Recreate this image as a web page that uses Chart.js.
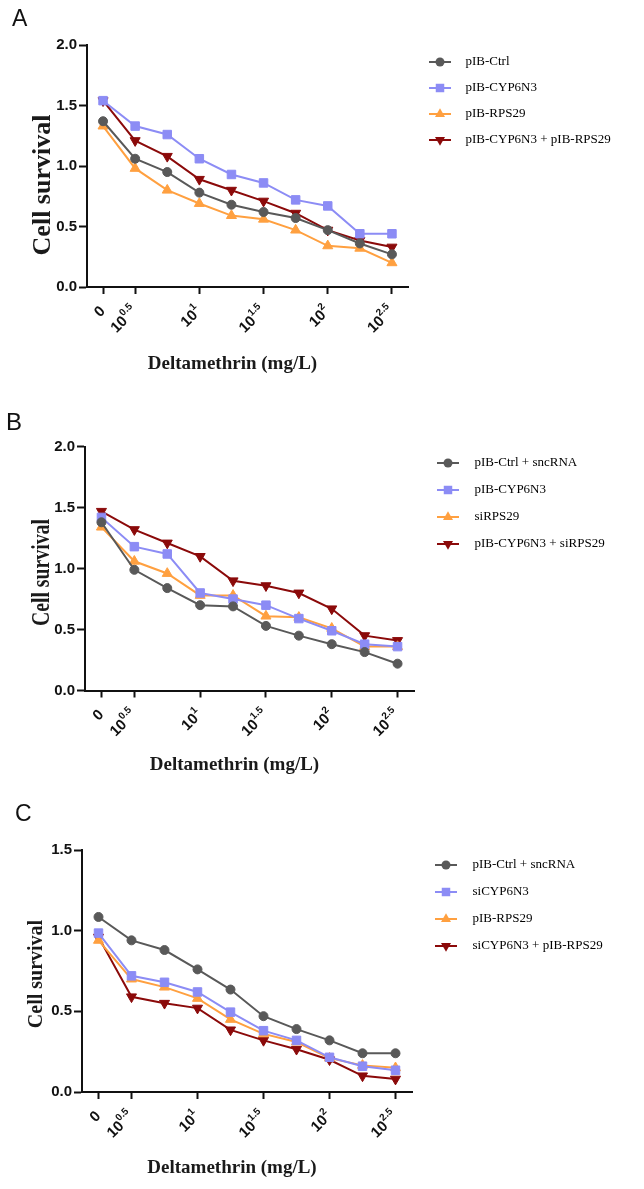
<!DOCTYPE html>
<html>
<head>
<meta charset="utf-8">
<script src="https://cdn.jsdelivr.net/npm/chart.js@4/dist/chart.umd.min.js"></script>
<style>
  html, body { margin: 0; padding: 0; background: #fff; }
  body { position: relative; width: 644px; height: 1189px; overflow: hidden; }
  canvas { position: absolute; left: 0; }
  .tag { position: absolute; font-family: "Liberation Sans", Arial, sans-serif; color: #111; line-height: 1; }
</style>
</head>
<body>
<canvas id="chartA" width="644" height="385" style="top:0px"></canvas>
<canvas id="chartB" width="644" height="390" style="top:385px"></canvas>
<canvas id="chartC" width="644" height="414" style="top:775px"></canvas>
<div class="tag" style="left:12px;top:7px;font-size:23px">A</div>
<div class="tag" style="left:6px;top:410px;font-size:24px">B</div>
<div class="tag" style="left:15px;top:802px;font-size:23px">C</div>
<script>
// x categories (dose, log scale) and the ones that get a tick + label
const doses = ['0', '10^0.5', '10^0.75', '10^1', '10^1.25', '10^1.5', '10^1.75', '10^2', '10^2.25', '10^2.5'];
const labelledDoses = ['0', '10^0.5', '10^1', '10^1.5', '10^2', '10^2.5'];

const xTitle = 'Deltamethrin (mg/L)';
const yTitle = 'Cell survival';

// panel A
const namesA = ['pIB-Ctrl', 'pIB-CYP6N3', 'pIB-RPS29', 'pIB-CYP6N3 + pIB-RPS29'];
const ctrlA  = [1.37, 1.06, 0.95, 0.78, 0.68, 0.62, 0.57, 0.47, 0.36, 0.27];
const cypA   = [1.54, 1.33, 1.26, 1.06, 0.93, 0.86, 0.72, 0.67, 0.44, 0.44];
const rpsA   = [1.33, 0.98, 0.80, 0.69, 0.59, 0.56, 0.47, 0.34, 0.32, 0.20];
const comboA = [1.54, 1.21, 1.08, 0.89, 0.80, 0.71, 0.61, 0.47, 0.385, 0.33];

// panel B
const namesB = ['pIB-Ctrl + sncRNA', 'pIB-CYP6N3', 'siRPS29', 'pIB-CYP6N3 + siRPS29'];
const ctrlB  = [1.38, 0.99, 0.84, 0.70, 0.69, 0.53, 0.45, 0.38, 0.315, 0.22];
const cypB   = [1.42, 1.18, 1.12, 0.80, 0.75, 0.70, 0.59, 0.49, 0.38, 0.36];
const rpsB   = [1.34, 1.06, 0.96, 0.78, 0.78, 0.61, 0.60, 0.51, 0.36, 0.36];
const comboB = [1.47, 1.32, 1.21, 1.10, 0.90, 0.86, 0.80, 0.67, 0.45, 0.41];

// panel C
const namesC = ['pIB-Ctrl + sncRNA', 'siCYP6N3', 'pIB-RPS29', 'siCYP6N3 + pIB-RPS29'];
const ctrlC  = [1.085, 0.94, 0.88, 0.76, 0.635, 0.47, 0.39, 0.32, 0.24, 0.24];
const cypC   = [0.985, 0.72, 0.68, 0.62, 0.495, 0.38, 0.32, 0.215, 0.16, 0.135];
const rpsC   = [0.94, 0.70, 0.65, 0.58, 0.45, 0.36, 0.31, 0.21, 0.165, 0.15];
const comboC = [0.96, 0.59, 0.55, 0.52, 0.385, 0.32, 0.265, 0.20, 0.10, 0.08];

const yTicksAB = [0, 0.5, 1.0, 1.5, 2.0];
const yTicksC  = [0, 0.5, 1.0, 1.5];

const colors  = ['#595959', '#8c8cf5', '#ffa040', '#8b0a0a'];
const markers = ['circle', 'rect', 'triangle', 'triangle'];
const turns   = [0, 0, 0, 180];
const radii   = [4.5, 6, 5.8, 5.8];

const SANS = '"Liberation Sans", Arial, sans-serif';
const SERIF = '"Liberation Serif", "Times New Roman", serif';
const LEGEND_FONT = 13;

// small line+marker picture for the legend
function legendIcon(i) {
  const c = document.createElement('canvas');
  c.width = 24; c.height = 14;
  const g = c.getContext('2d');
  g.strokeStyle = colors[i];
  g.fillStyle = colors[i];
  g.lineWidth = 2;
  g.beginPath(); g.moveTo(1, 7); g.lineTo(23, 7); g.stroke();
  const x = 12, y = 7, r = radii[i];
  g.beginPath();
  if (markers[i] === 'circle') {
    g.arc(x, y, r, 0, Math.PI * 2);
  } else if (markers[i] === 'rect') {
    const s = r * Math.SQRT1_2;
    g.rect(x - s, y - s, 2 * s, 2 * s);
  } else {
    const d = turns[i] ? -1 : 1;
    const h = r * 0.5;
    g.moveTo(x, y - d * r);
    g.lineTo(x + r * 0.866, y + d * h);
    g.lineTo(x - r * 0.866, y + d * h);
    g.closePath();
  }
  g.fill();
  return c;
}

function textWidth(str, font) {
  const g = document.createElement('canvas').getContext('2d');
  g.font = font;
  return g.measureText(str).width;
}

// axis titles and superscript dose labels
const axisText = {
  id: 'axisText',
  afterDraw(chart, args, o) {
    const {ctx, chartArea} = chart;
    const x = chart.scales.x;
    ctx.save();
    ctx.fillStyle = '#111';
    x.ticks.forEach((t, i) => {
      const px = x.getPixelForTick(i);
      const parts = doses[t.value].split('^');
      ctx.save();
      ctx.translate(px, chartArea.bottom + 22);
      ctx.rotate(-Math.PI / 4);
      ctx.textAlign = 'left';
      ctx.textBaseline = 'middle';
      ctx.font = 'bold 15px ' + SANS;
      const wb = ctx.measureText(parts[0]).width;
      let we = 0;
      if (parts[1]) {
        ctx.font = 'bold 10px ' + SANS;
        we = ctx.measureText(parts[1]).width;
        ctx.fillText(parts[1], -we, -6);
      }
      ctx.font = 'bold 15px ' + SANS;
      ctx.fillText(parts[0], -wb - we, 0);
      ctx.restore();
    });

    ctx.font = 'bold 19px ' + SERIF;
    ctx.textAlign = 'center';
    ctx.textBaseline = 'middle';
    ctx.fillStyle = '#1a1a1a';
    ctx.fillText(xTitle, (chartArea.left + chartArea.right) / 2 - 15, chartArea.bottom + o.xTitleGap);

    ctx.translate(o.yTitleX, (chartArea.top + chartArea.bottom) / 2 + o.yTitleShift);
    ctx.rotate(-Math.PI / 2);
    ctx.scale(o.yTitleStretch, 1);
    ctx.font = 'bold ' + o.yTitleSize + 'px ' + SERIF;
    ctx.fillText(yTitle, 0, 0);
    ctx.restore();
  }
};

function buildChart(id, names, series, yTicks, lay) {
  const canvas = document.getElementById(id);
  const legendFont = LEGEND_FONT + 'px ' + SERIF;
  const longest = Math.max(...names.map(n => textWidth(n, legendFont)));
  const legendWidth = lay.legendPad + lay.boxW + LEGEND_FONT / 2 + longest + 10;
  const padRight = canvas.width - lay.right - legendWidth;

  return new Chart(canvas, {
    type: 'line',
    data: {
      labels: doses,
      datasets: series.map((vals, i) => ({
        label: names[i],
        data: vals,
        borderColor: colors[i],
        backgroundColor: colors[i],
        borderWidth: 2,
        pointStyle: markers[i],
        rotation: turns[i],
        pointRadius: radii[i],
        pointHoverRadius: radii[i],
        pointBackgroundColor: colors[i],
        pointBorderColor: colors[i],
        pointBorderWidth: 1,
        tension: 0,
        fill: false
      }))
    },
    options: {
      responsive: false,
      animation: false,
      devicePixelRatio: 1,
      layout: { padding: { top: lay.legendTop, left: 0, right: padRight, bottom: 0 } },
      plugins: {
        // empty title only used as a spacer between legend top and plot top
        title: {
          display: true,
          text: '',
          font: { size: 1, lineHeight: 1 },
          padding: { top: 0, bottom: lay.top - lay.legendTop - 1 }
        },
        legend: {
          position: 'right',
          align: 'start',
          maxWidth: 320,
          labels: {
            usePointStyle: true,
            pointStyleWidth: lay.boxW,
            padding: lay.legendPad,
            color: '#1a1a1a',
            font: { family: SERIF, size: LEGEND_FONT },
            generateLabels: chart => chart.data.datasets.map((ds, i) => ({
              text: ds.label,
              pointStyle: legendIcon(i),
              datasetIndex: i,
              hidden: false,
              fillStyle: colors[i],
              strokeStyle: colors[i],
              lineWidth: 0
            }))
          }
        },
        tooltip: { enabled: false },
        axisText: {
          xTitleGap: lay.xTitleGap,
          yTitleX: lay.yTitleX,
          yTitleShift: lay.yTitleShift,
          yTitleSize: lay.yTitleSize,
          yTitleStretch: lay.yTitleStretch
        }
      },
      scales: {
        x: {
          type: 'category',
          offset: true,
          afterBuildTicks: scale => {
            scale.ticks = scale.ticks.filter(t => labelledDoses.includes(doses[t.value]));
          },
          afterFit: scale => { scale.height = canvas.height - lay.bottom; },
          ticks: { display: false },
          grid: { drawOnChartArea: false, drawTicks: true, tickLength: 7, tickWidth: 2, tickColor: '#111' },
          border: { color: '#111', width: 2 }
        },
        y: {
          min: yTicks[0],
          max: yTicks[yTicks.length - 1],
          afterBuildTicks: scale => { scale.ticks = yTicks.map(v => ({ value: v })); },
          afterFit: scale => { scale.width = lay.left; },
          ticks: {
            padding: 2,
            color: '#111',
            font: { family: SANS, size: 15, weight: 'bold' },
            callback: v => v.toFixed(1)
          },
          grid: { drawOnChartArea: false, drawTicks: true, tickLength: 8, tickWidth: 2, tickColor: '#111' },
          border: { color: '#111', width: 2 }
        }
      }
    },
    plugins: [axisText]
  });
}

buildChart('chartA', namesA, [ctrlA, cypA, rpsA, comboA], yTicksAB, {
  left: 87, right: 408, top: 45, bottom: 287, legendTop: 42.5, legendPad: 13, boxW: 38,
  xTitleGap: 77, yTitleX: 43, yTitleShift: 19, yTitleSize: 26, yTitleStretch: 1
});
buildChart('chartB', namesB, [ctrlB, cypB, rpsB, comboB], yTicksAB, {
  left: 85, right: 414, top: 61.7, bottom: 305.5, legendTop: 57.5, legendPad: 14, boxW: 40,
  xTitleGap: 74.5, yTitleX: 42.5, yTitleShift: 4, yTitleSize: 26, yTitleStretch: 0.76
});
buildChart('chartC', namesC, [ctrlC, cypC, rpsC, comboC], yTicksC, {
  left: 82, right: 412, top: 75, bottom: 317, legendTop: 69.5, legendPad: 14, boxW: 40,
  xTitleGap: 76, yTitleX: 36.5, yTitleShift: 3, yTitleSize: 20, yTitleStretch: 1
});
</script>
</body>
</html>
